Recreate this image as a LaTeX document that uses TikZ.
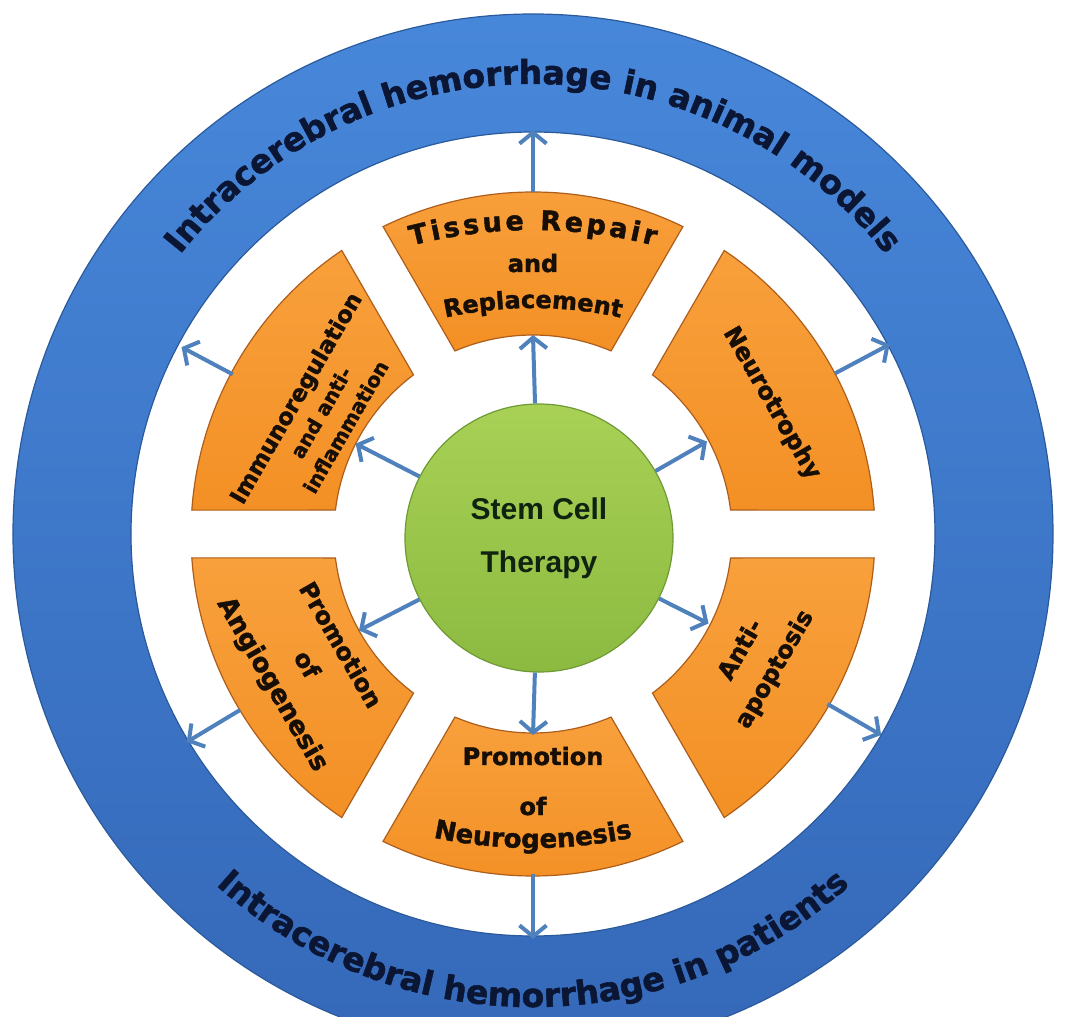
\documentclass[tikz,border=0pt]{standalone}
\usepackage{fontspec}
\setmainfont{DejaVu Sans}[BoldFeatures={FakeBold=1.6}]
\newfontfamily\stemfont{Liberation Sans}
\usetikzlibrary{arrows.meta,decorations.text}

\definecolor{ringtop}{HTML}{4787DA}
\definecolor{ringbot}{HTML}{3568B8}
\definecolor{ringedge}{HTML}{2B5A9C}
\definecolor{ringink}{HTML}{0A1634}
\definecolor{petaltop}{HTML}{F8A03C}
\definecolor{petalfill}{HTML}{F39025}
\definecolor{petaledge}{HTML}{AE5E1A}
\definecolor{petalink}{HTML}{170E06}
\definecolor{stemtop}{HTML}{A8D156}
\definecolor{stembot}{HTML}{8CBA40}
\definecolor{stemedge}{HTML}{6E9A34}
\definecolor{stemink}{HTML}{102210}
\definecolor{arrowblue}{HTML}{4F81BD}

\newcommand\pettype{\fontsize{24}{39}\selectfont\bfseries}
\newcommand\ringtype{\fontsize{33}{38}\selectfont\bfseries}
\newcommand\stemtype{\stemfont\bfseries\fontsize{30}{53}\selectfont}

\begin{document}
\begin{tikzpicture}[
  petal/.style={draw=petaledge, line width=1.2pt, top color=petaltop, bottom color=petalfill},
  pettext/.style={font=\pettype, text=petalink, align=center, inner sep=0pt},
  flow/.style={draw=arrowblue, line width=4pt, -{Straight Barb[length=11pt,width=27pt]}},
  stem/.style={circle, minimum size=268pt, inner sep=0pt, top color=stemtop, bottom color=stembot,
    draw=stemedge, line width=1.2pt, font=\stemtype, text=stemink, align=center}
]
\clip (-533pt,-483pt) rectangle (547pt,534pt);
\fill[white] (-533pt,-483pt) rectangle (547pt,534pt);

\path[top color=ringtop, bottom color=ringbot, draw=ringedge, line width=1.2pt]
  (0:520pt) arc[start angle=0, end angle=360, radius=520pt] -- cycle
  (0:402pt) arc[start angle=360, end angle=0, radius=402pt] -- cycle;

\draw[petal] (116:342pt) arc[start angle=116, end angle=64, radius=342pt] -- (66.9:199pt) arc[start angle=66.9, end angle=113.1, radius=199pt] -- cycle;
\draw[petal] (56:342pt) arc[start angle=56, end angle=4, radius=342pt] -- (6.9:199pt) arc[start angle=6.9, end angle=53.1, radius=199pt] -- cycle;
\draw[petal] (-4:342pt) arc[start angle=-4, end angle=-56, radius=342pt] -- (-53.1:199pt) arc[start angle=-53.1, end angle=-6.9, radius=199pt] -- cycle;
\draw[petal] (-64:342pt) arc[start angle=-64, end angle=-116, radius=342pt] -- (-113.1:199pt) arc[start angle=-113.1, end angle=-66.9, radius=199pt] -- cycle;
\draw[petal] (236:342pt) arc[start angle=236, end angle=184, radius=342pt] -- (186.9:199pt) arc[start angle=186.9, end angle=233.1, radius=199pt] -- cycle;
\draw[petal] (176:342pt) arc[start angle=176, end angle=124, radius=342pt] -- (126.9:199pt) arc[start angle=126.9, end angle=173.1, radius=199pt] -- cycle;

\node[stem] (stem) at (6pt,-4pt) {Stem Cell\\Therapy};

\coordinate (in-tissue) at (90:199pt);
\coordinate (in-neurotrophy) at (28:197pt);
\coordinate (in-antiapop) at (-27:197pt);
\coordinate (in-neurogen) at (-90:201pt);
\coordinate (in-angio) at (209:199pt);
\coordinate (in-immuno) at (153:199pt);
\coordinate (out-tissue) at (90:342pt);
\coordinate (out-neurotrophy) at (28:342pt);
\coordinate (out-antiapop) at (-30:340pt);
\coordinate (out-neurogen) at (-90:340pt);
\coordinate (out-angio) at (211:342pt);
\coordinate (out-immuno) at (152:340pt);
\coordinate (ring-tissue) at (90:404pt);
\coordinate (ring-neurotrophy) at (28:404pt);
\coordinate (ring-antiapop) at (-30:402pt);
\coordinate (ring-neurogen) at (-90:405pt);
\coordinate (ring-angio) at (211:404pt);
\coordinate (ring-immuno) at (152:398pt);

\draw[flow] (stem) -- (in-tissue);
\draw[flow] (stem) -- (in-neurotrophy);
\draw[flow] (stem) -- (in-antiapop);
\draw[flow] (stem) -- (in-neurogen);
\draw[flow] (stem) -- (in-angio);
\draw[flow] (stem) -- (in-immuno);
\draw[flow] (out-tissue) -- (ring-tissue);
\draw[flow] (out-neurotrophy) -- (ring-neurotrophy);
\draw[flow] (out-antiapop) -- (ring-antiapop);
\draw[flow] (out-neurogen) -- (ring-neurogen);
\draw[flow] (out-angio) -- (ring-angio);
\draw[flow] (out-immuno) -- (ring-immuno);

\path[decorate, decoration={text along path, text align=center, text color=ringink,
  text={|\ringtype|Intracerebral hemorrhage in animal models}}]
  (150:450pt) arc[start angle=150, end angle=30, radius=450pt];
\path[decorate, decoration={text along path, text align=center, text color=ringink,
  text={|\ringtype|Intracerebral hemorrhage in patients}}]
  (220:473pt) arc[start angle=220, end angle=320, radius=473pt];

\begin{scope}[shift={(0pt,-178pt)}]
\path[decorate, decoration={text along path, text align=fit to path, text color=petalink,
  text={|\fontsize{27}{30}\selectfont\bfseries|Tissue Repair}}]
  (104.6:482pt) arc[start angle=104.6, end angle=75.4, radius=482pt];
\path[decorate, decoration={text along path, text align=center, text color=petalink,
  text={|\pettype|Replacement}}]
  (115:404pt) arc[start angle=115, end angle=65, radius=404pt];
\end{scope}
\node[pettext, anchor=base] (tissue) at (0pt,262pt) {and};

\node[pettext, rotate=-60] (neurotrophy) at (28.7:272pt) {Neurotrophy};
\node[pettext, rotate=60] (antiapop) at (-29.2:258pt) {Anti-\\apoptosis};

\node[pettext, anchor=base] (neurogen) at (0pt,-231pt) {Promotion};
\node[pettext, anchor=base] (neurogen-of) at (0pt,-281pt) {of};
\begin{scope}[shift={(0pt,164pt)}]
\path[decorate, decoration={text along path, text align=center, text color=petalink,
  text={|\fontsize{26}{30}\selectfont\bfseries|Neurogenesis}}]
  (245:478pt) arc[start angle=245, end angle=295, radius=478pt];
\end{scope}

\node[pettext, rotate=-60] (angio) at (210:263pt) {Promotion\\of\\{\fontsize{26}{39}\selectfont Angiogenesis}};
\node[pettext, rotate=60, font=\fontsize{20}{28.5}\selectfont\bfseries] (immuno) at (-213pt,122pt)
  {{\fontsize{23}{28.5}\selectfont Immunoregulation}\\and anti-\\inflammation};
\end{tikzpicture}
\end{document}
